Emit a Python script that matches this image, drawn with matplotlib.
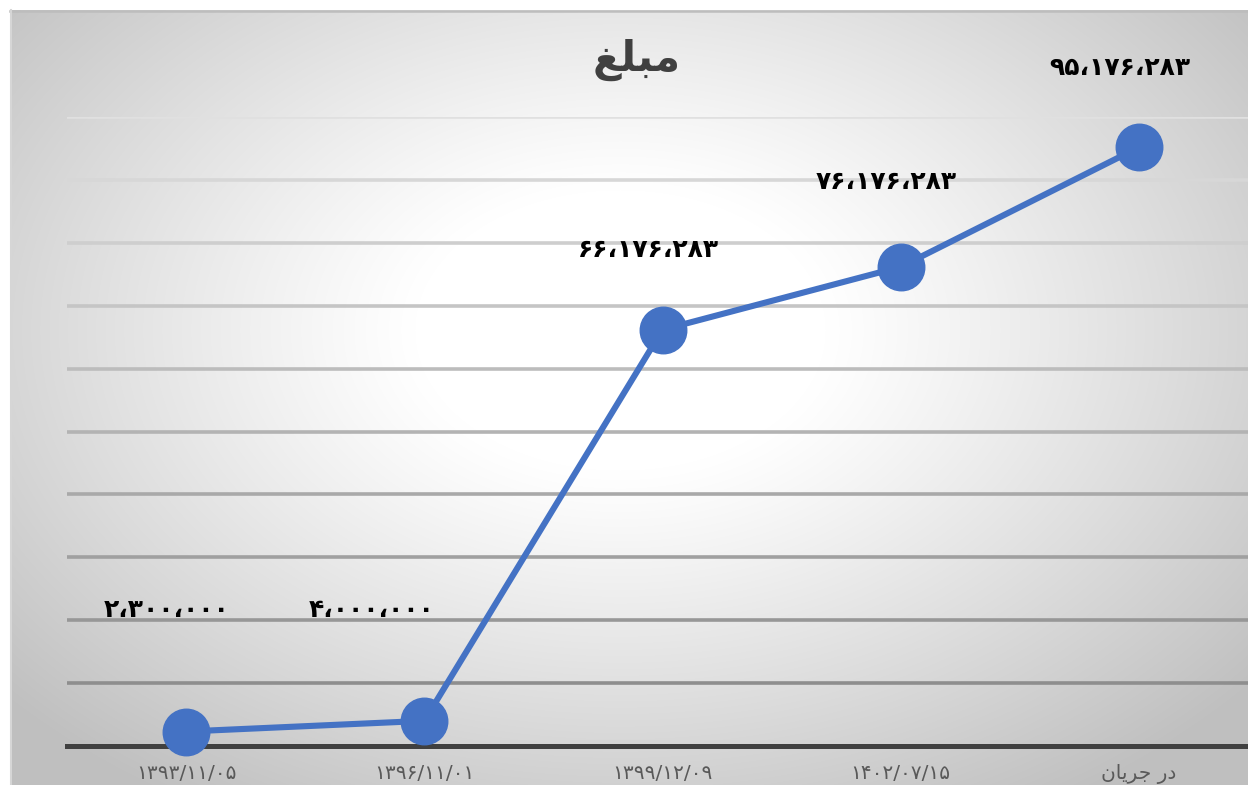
import numpy as np
import matplotlib
matplotlib.use("Agg")
from matplotlib import pyplot as plt
from matplotlib.lines import Line2D

plt.rcParams["font.family"] = ["DejaVu Sans"]

# data
categories = ["۱۳۹۳/۱۱/۰۵", "۱۳۹۶/۱۱/۰۱", "۱۳۹۹/۱۲/۰۹", "۱۴۰۲/۰۷/۱۵",
              "\ufee5\ufe8e\ufef3\ufeae\ufe9f \ufead\ufea9"]  # در جریان (pre-shaped)
amounts = [2_300_000, 4_000_000, 66_176_283, 76_176_283, 95_176_283]
title = "\ufece\ufee0\ufe92\ufee3"  # مبلغ (pre-shaped)

# label placement (x offset in category units, y in value units)
label_dx = [-0.08, -0.22, -0.06, -0.06, -0.08]
label_y = [21.6e6, 21.6e6, 78.9e6, 89.7e6, 107.8e6]

FA_DIGITS = str.maketrans("0123456789,", "۰۱۲۳۴۵۶۷۸۹،")


def fa_number(v):
    return f"{v:,}".translate(FA_DIGITS)


W, H = 1248, 785
fig = plt.figure(figsize=(W / 100, H / 100), dpi=100)
fig.patch.set_facecolor("white")

# radial gradient background of the chart area
bg = fig.add_axes([10 / W, 0, 1 - 10 / W, (H - 10) / H], zorder=0)
yy, xx = np.mgrid[10:H, 10:W]
r = np.sqrt(((xx - 620) / 820.0) ** 2 + ((yy - 330) / 560.0) ** 2)
t = np.clip((r - 0.25) / 0.75, 0, 1)
shade = 1.0 - 0.25 * t ** 1.1
bg.imshow(np.dstack([shade] * 3), aspect="auto", interpolation="bilinear",
          extent=[0, 1, 0, 1])
bg.axis("off")
fig.add_artist(Line2D([10 / W, 1], [(H - 11) / H] * 2, color="#bdbdbd", lw=1.8))
fig.add_artist(Line2D([11 / W] * 2, [0, (H - 10) / H], color="#d6d6d6", lw=1.5))

left, right = 67, 1258
top, bottom = 117, 746
ax = fig.add_axes([left / W, (H - bottom) / H, (right - left) / W, (bottom - top) / H],
                  zorder=1)
ax.patch.set_alpha(0)
x = np.arange(len(categories))
ax.set_xlim(-0.5, len(categories) - 0.5)
ax.set_ylim(0, 100e6)

# gradient-coloured gridlines
levels = np.arange(10e6, 100e6 + 1, 10e6)
for lv in levels:
    f = lv / 100e6
    g = 0.52 + 0.36 * f
    ax.axhline(lv, color=(g, g, g), lw=2.6, zorder=1)
ax.axhline(0, color="#404040", lw=3.6, zorder=2, clip_on=False)

ax.plot(x, amounts, color="#4472C4", lw=4.4, marker="o", markersize=33.5,
        zorder=3, clip_on=False)

for i, v in enumerate(amounts):
    ax.text(i + label_dx[i], label_y[i], fa_number(v), ha="center", va="center",
            fontsize=18, fontweight="bold", color="black", clip_on=False)

for s in ax.spines.values():
    s.set_visible(False)
ax.set_yticks([])
ax.set_xticks(x)
ax.set_xticklabels(categories, fontsize=14.5, color="#595959")
ax.tick_params(axis="x", length=0, pad=13)

fig.text(637 / W, (H - 60) / H, title, ha="center", va="center", fontsize=30,
         fontweight="bold", color="#404040")

fig.savefig("out.png", dpi=100)
